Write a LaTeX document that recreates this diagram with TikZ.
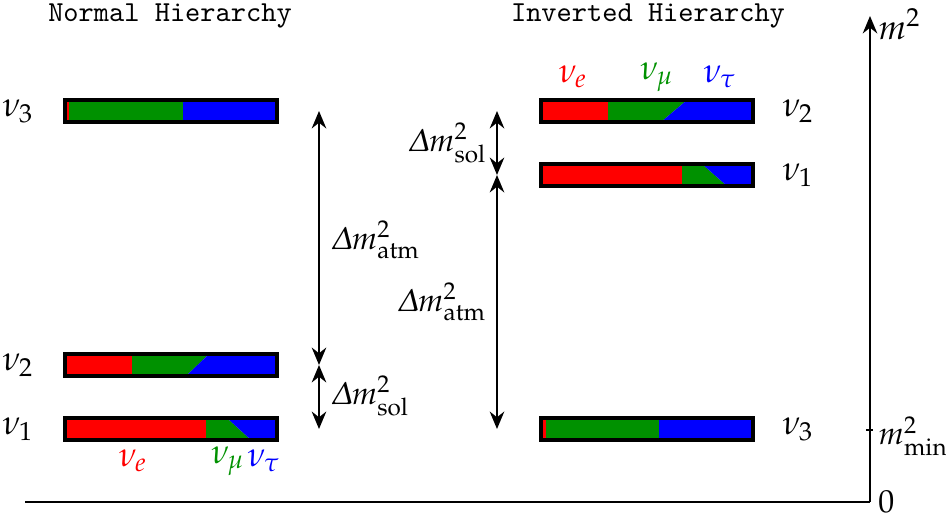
\documentclass[tikz,border=0pt]{standalone}
\usepackage[slantedGreek]{mathpazo}
\usetikzlibrary{arrows.meta}

\definecolor{nugreen}{RGB}{0,145,0}

\tikzset{
  bar/.style={draw=black, line width=1.1pt},
  gap/.style={{Stealth[length=6pt,width=5pt]}-{Stealth[length=6pt,width=5pt]}, line width=0.8pt},
  lbl/.style={inner sep=1pt, font=\fontsize{11}{13}\selectfont}
}

\begin{document}
\begin{tikzpicture}[x=0.345pt, y=-0.345pt]
     \useasboundingbox (0,0) rectangle (946,518);

     % titles
     \node (tnh) at (170,16) {\texttt{Normal Hierarchy}};
     \node (tih) at (648,16) {\texttt{Inverted Hierarchy}};

     % axis
     \coordinate (orig) at (870,502);
     \coordinate (left) at (25,502);
     \coordinate (top) at (870,16);
     \draw[line width=0.8pt] (left) -- (orig);
     \draw[line width=0.8pt, -{Stealth[length=6pt,width=5pt]}] (orig) -- (top);
     \node[anchor=west, lbl] (zero) at (875,502) {$0$};
     \node[anchor=west, lbl] (msq) at (875,24) {\large$m^2$};
     \draw[line width=0.8pt] (866,430) -- (873,430);
     \node[anchor=west, lbl] (mmin) at (875,436) {$m^2_{\mathrm{min}}$};

     % normal hierarchy bars
     % nu3
     \fill[red] (65,100) rectangle (69,122);
     \fill[nugreen] (69,100) rectangle (183,122);
     \fill[blue] (183,100) rectangle (277,122);
     \draw[bar] (65,100) rectangle (277,122);
     % nu2
     \fill[red] (65,354) rectangle (132,376);
     \fill[nugreen] (132,354) -- (209,354) -- (186,376) -- (132,376) -- cycle;
     \fill[blue] (209,354) -- (277,354) -- (277,376) -- (186,376) -- cycle;
     \draw[bar] (65,354) rectangle (277,376);
     % nu1
     \fill[red] (65,418) rectangle (206,440);
     \fill[nugreen] (206,418) -- (227,418) -- (251,440) -- (206,440) -- cycle;
     \fill[blue] (227,418) -- (277,418) -- (277,440) -- (251,440) -- cycle;
     \draw[bar] (65,418) rectangle (277,440);

     \node (n3) at (18,111) {\large$\nu_3$};
     \node (n2) at (18,365) {\large$\nu_2$};
     \node (n1) at (18,429) {\large$\nu_1$};

     \node[red] (ne) at (133,461) {\large$\nu_e$};
     \node[nugreen] (nm) at (228,461) {\large$\nu_\mu$};
     \node[blue] (nt) at (264,461) {\large$\nu_\tau$};

     % normal hierarchy splittings
     \coordinate (a3) at (319,111);
     \coordinate (a2) at (319,365);
     \coordinate (a1) at (319,429);
     \draw[gap] (a3) -- (a2);
     \draw[gap] (a2) -- (a1);
     \node[anchor=west, lbl] (atm) at (328,240) {$\Delta m^2_{\mathrm{atm}}$};
     \node[anchor=west, lbl] (sol) at (328,396) {$\Delta m^2_{\mathrm{sol}}$};

     % inverted hierarchy bars
     % nu2
     \fill[red] (541,100) rectangle (608,122);
     \fill[nugreen] (608,100) -- (687,100) -- (661,122) -- (608,122) -- cycle;
     \fill[blue] (687,100) -- (753,100) -- (753,122) -- (661,122) -- cycle;
     \draw[bar] (541,100) rectangle (753,122);
     % nu1
     \fill[red] (541,164) rectangle (682,186);
     \fill[nugreen] (682,164) -- (702,164) -- (727,186) -- (682,186) -- cycle;
     \fill[blue] (702,164) -- (753,164) -- (753,186) -- (727,186) -- cycle;
     \draw[bar] (541,164) rectangle (753,186);
     % nu3
     \fill[red] (541,418) rectangle (546,440);
     \fill[nugreen] (546,418) rectangle (659,440);
     \fill[blue] (659,418) rectangle (753,440);
     \draw[bar] (541,418) rectangle (753,440);

     \node (m2) at (798,111) {\large$\nu_2$};
     \node (m1) at (798,175) {\large$\nu_1$};
     \node (m3) at (798,429) {\large$\nu_3$};

     \node[red] (me) at (573,77) {\large$\nu_e$};
     \node[nugreen] (mm) at (657,77) {\large$\nu_\mu$};
     \node[blue] (mt) at (720,77) {\large$\nu_\tau$};

     % inverted hierarchy splittings
     \coordinate (b2) at (497,111);
     \coordinate (b1) at (497,175);
     \coordinate (b3) at (497,429);
     \draw[gap] (b2) -- (b1);
     \draw[gap] (b1) -- (b3);
     \node[anchor=east, lbl] (isol) at (490,143) {$\Delta m^2_{\mathrm{sol}}$};
     \node[anchor=east, lbl] (iatm) at (490,302) {$\Delta m^2_{\mathrm{atm}}$};

\end{tikzpicture}
\end{document}
